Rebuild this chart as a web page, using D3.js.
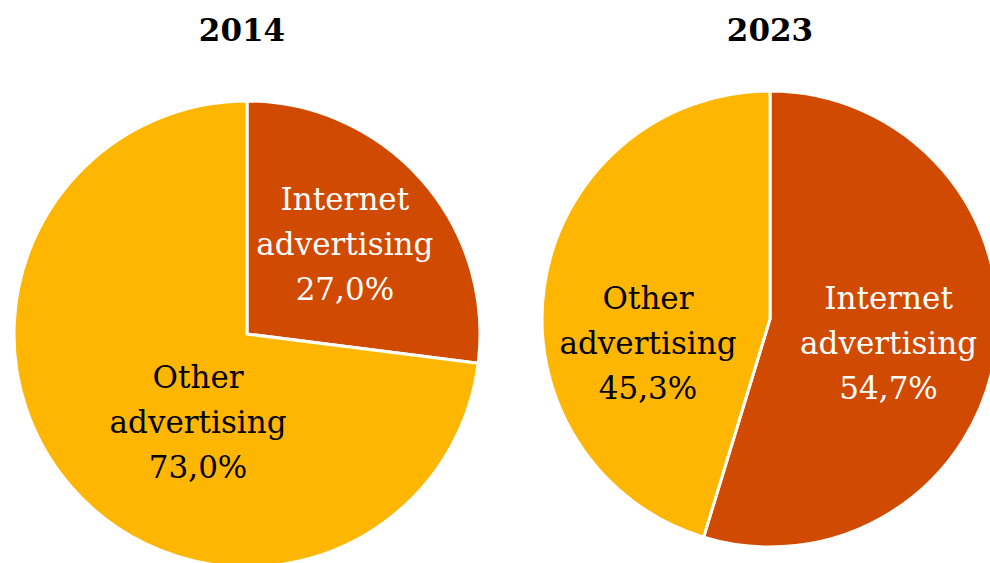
<!DOCTYPE html>
<html>
<head>
<meta charset="utf-8">
<script src="https://cdn.jsdelivr.net/npm/d3@7"></script>
<style>
  html, body { margin: 0; padding: 0; background: #fff; }
  svg { display: block; }
</style>
</head>
<body>
<svg id="chart" width="990" height="563"></svg>
<script>
// Share of advertising spend, internet vs. other
const years = ["2014", "2023"];
const categories = ["Internet advertising", "Other advertising"];
const internetShare = [27.0, 54.7];
const otherShare = [73.0, 45.3];

const colors = { "Internet advertising": "#D04A02", "Other advertising": "#FFB600" };
const textColors = { "Internet advertising": "#ffffff", "Other advertising": "#000000" };

// Pie placement and label anchors (label offsets in units of radius)
const layout = [
  { cx: 247, cy: 334, r: 233, titleX: 242,
    labels: { "Internet advertising": [0.42, -0.38], "Other advertising": [-0.21, 0.38] } },
  { cx: 770, cy: 319, r: 228, titleX: 770,
    labels: { "Internet advertising": [0.52, 0.11], "Other advertising": [-0.535, 0.11] } }
];

const svg = d3.select("#chart");
const fontFamily = "'DejaVu Serif', 'Liberation Serif', serif";
const pie = d3.pie().sort(null).value(d => d.value);
const fmt = v => v.toFixed(1).replace(".", ",") + "%";

years.forEach((year, i) => {
  const L = layout[i];
  const data = [
    { name: categories[0], value: internetShare[i] },
    { name: categories[1], value: otherShare[i] }
  ];
  const arc = d3.arc().innerRadius(0).outerRadius(L.r);
  const g = svg.append("g").attr("transform", `translate(${L.cx},${L.cy})`);

  g.selectAll("path")
    .data(pie(data))
    .join("path")
    .attr("d", arc)
    .attr("fill", d => colors[d.data.name])
    .attr("stroke", "#ffffff")
    .attr("stroke-width", 3)
    .attr("stroke-linejoin", "round");

  const lab = g.selectAll("text.lab")
    .data(pie(data))
    .join("text")
    .attr("class", "lab")
    .attr("text-anchor", "middle")
    .attr("font-family", fontFamily)
    .attr("font-size", 31)
    .attr("fill", d => textColors[d.data.name])
    .attr("transform", d => {
      const o = L.labels[d.data.name];
      return `translate(${o[0] * L.r},${o[1] * L.r})`;
    });

  lab.each(function(d) {
    const words = d.data.name.split(" ");
    const lines = [words[0], words[1], fmt(d.data.value)];
    const t = d3.select(this);
    lines.forEach((ln, k) => {
      t.append("tspan")
        .attr("x", 0)
        .attr("y", (k - 1) * 45 + 10)
        .text(ln);
    });
  });

  svg.append("text")
    .attr("x", L.titleX)
    .attr("y", 41)
    .attr("text-anchor", "middle")
    .attr("font-family", fontFamily)
    .attr("font-weight", "bold")
    .attr("font-size", 31)
    .attr("fill", "#000")
    .text(year);
});
</script>
</body>
</html>
